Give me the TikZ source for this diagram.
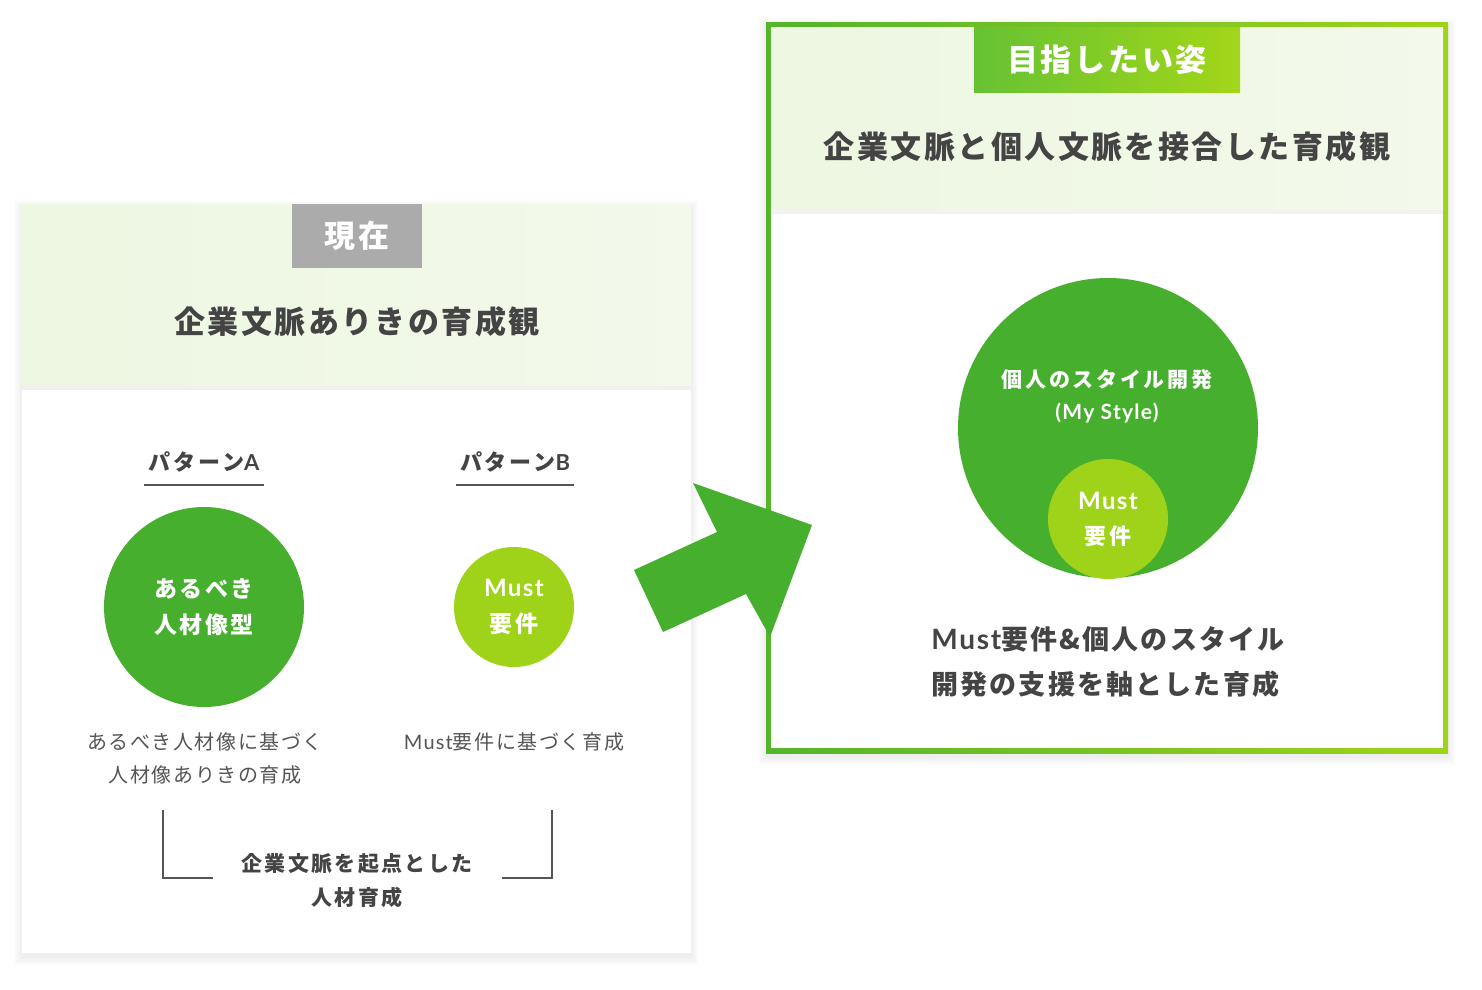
\documentclass[tikz,border=0pt]{standalone}
\usepackage{fontspec}
\setmainfont{Noto Sans CJK JP}
\newfontfamily\latofont{Lato}[LetterSpace=6]
\usetikzlibrary{positioning}

\definecolor{mygreen}{HTML}{47AF2E}
\definecolor{lightgreen}{HTML}{9FD31A}
\definecolor{bandgreen}{HTML}{EDF7E1}
\definecolor{bandgreenR}{HTML}{F3F9EB}
\definecolor{taggray}{HTML}{ABABAB}
\definecolor{textgray}{HTML}{444444}
\definecolor{descgray}{HTML}{555555}
\definecolor{tagA}{HTML}{66C233}
\definecolor{tagB}{HTML}{A3D618}

\newcommand{\spaced}[1]{\addfontfeatures{LetterSpace=#1}}

\begin{document}
\begin{tikzpicture}[x=1pt,y=-1pt,
	tag/.style={inner sep=0, text=white, font=\fontsize{31}{31}\bfseries\selectfont\spaced{9}},
	title/.style={text=textgray, font=\fontsize{31}{31}\bfseries\selectfont\spaced{8}},
	pattern/.style={text=textgray, font=\fontsize{22}{22}\bfseries\selectfont\spaced{13}},
	ball/.style={circle, inner sep=0, text=white, align=center},
	desc/.style={text=descgray, align=center, font=\fontsize{20}{33}\selectfont\spaced{8}},
	bracket/.style={draw=descgray, line width=1.2pt},
	]
	\useasboundingbox (0,0) rectangle (1482,989);
	
	% soft shadows of the two panels
	\foreach \s in {1,...,8}{
		\fill[black, opacity=0.008] (22-\s,204-\s+4) rectangle (691+\s,953+\s+4);
		\fill[black, opacity=0.008] (766-\s,22-\s+4) rectangle (1448+\s,753+\s+4);
	}
	
	% left panel
	\fill[white] (22,204) rectangle (691,953);
	\shade[left color=bandgreen, right color=bandgreenR] (22,204) rectangle (691,386);
	\fill[black!6] (22,386) rectangle (691,390);
	\node[tag, fill=taggray, minimum width=130, minimum height=64] (nowtag) at (357,236) {現在};
	\node[title] (nowtitle) at (357,322) {企業文脈ありきの育成観};
	
	\node[pattern] (patA) at (204,462) {パターン{\latofont A}};
	\node[pattern] (patB) at (515,462) {パターン{\latofont B}};
	\path
	(patA) +(-60,23) coordinate (patAl)
	+(60,23)  coordinate (patAr)
	(patB) +(-59,23) coordinate (patBl)
	+(59,23)  coordinate (patBr)
	;
	\draw[bracket] (patAl) -- (patAr);
	\draw[bracket] (patBl) -- (patBr);
	
	\node[ball, fill=mygreen, minimum size=200, font=\fontsize{23}{36}\bfseries\selectfont\spaced{11}] (circA) at (204,607) {あるべき\\人材像型};
	\node[ball, fill=lightgreen, minimum size=120, font=\fontsize{23}{36}\bfseries\selectfont\spaced{11}] (circB) at (514,607) {{\latofont\fontsize{24}{36}\selectfont Must}\\要件};
	
	\node[desc] (descA) at (205,758) {あるべき人材像に基づく\\人材像ありきの育成};
	\node[desc] (descB) at (514,742) {{\latofont Must}要件に基づく育成};
	
	% bracket joining both patterns
	\path
	(163,810) coordinate (brLtop)
	(163,878) coordinate (brLbot)
	(213,878) coordinate (brLend)
	(552,810) coordinate (brRtop)
	(552,878) coordinate (brRbot)
	(502,878) coordinate (brRend)
	;
	\draw[bracket] (brLtop) -- (brLbot) -- (brLend);
	\draw[bracket] (brRtop) -- (brRbot) -- (brRend);
	\node[text=textgray, align=center, font=\fontsize{21}{34}\bfseries\selectfont\spaced{11}] (origin) at (357,881) {企業文脈を起点とした\\人材育成};
	
	% right panel with gradient frame
	\shade[left color=mygreen!85!lightgreen, right color=lightgreen] (766,22) rectangle (1448,753);
	\fill[white] (771,27) rectangle (1443,748);
	\shade[left color=bandgreen, right color=bandgreenR] (771,27) rectangle (1443,210);
	\fill[black!5] (771,210) rectangle (1443,214);
	\node[tag, left color=tagA, right color=tagB, minimum width=266, minimum height=65] (goaltag) at (1107,59.5) {目指したい姿};
	\node[title] (goaltitle) at (1107,147) {企業文脈と個人文脈を接合した育成観};
	
	\node[ball, fill=mygreen, minimum size=300] (style) at (1108,428) {};
	\node[text=white, align=center, font=\fontsize{21}{32}\bfseries\selectfont\spaced{13}] (stylelbl) at (1107,396) {個人のスタイル開発\\{\latofont (My Style)}};
	\node[ball, fill=lightgreen, minimum size=120, font=\fontsize{22}{35}\bfseries\selectfont\spaced{11}] (must) at (1108,519) {{\latofont\fontsize{24}{35}\selectfont Must}\\要件};
	
	\node[text=textgray, align=left, font=\fontsize{27}{45}\bfseries\selectfont\spaced{8}] (goaldesc) at (1108,662) {{\latofont\fontsize{28}{45}\selectfont Must}要件\&個人のスタイル\\開発の支援を軸とした育成};
	
	% big arrow from left to right panel
	\fill[mygreen] (693,483) -- (717,532) -- (634,570) -- (663,632) -- (746,594) -- (770,637) -- (812,525) -- cycle;
\end{tikzpicture}
\end{document}
